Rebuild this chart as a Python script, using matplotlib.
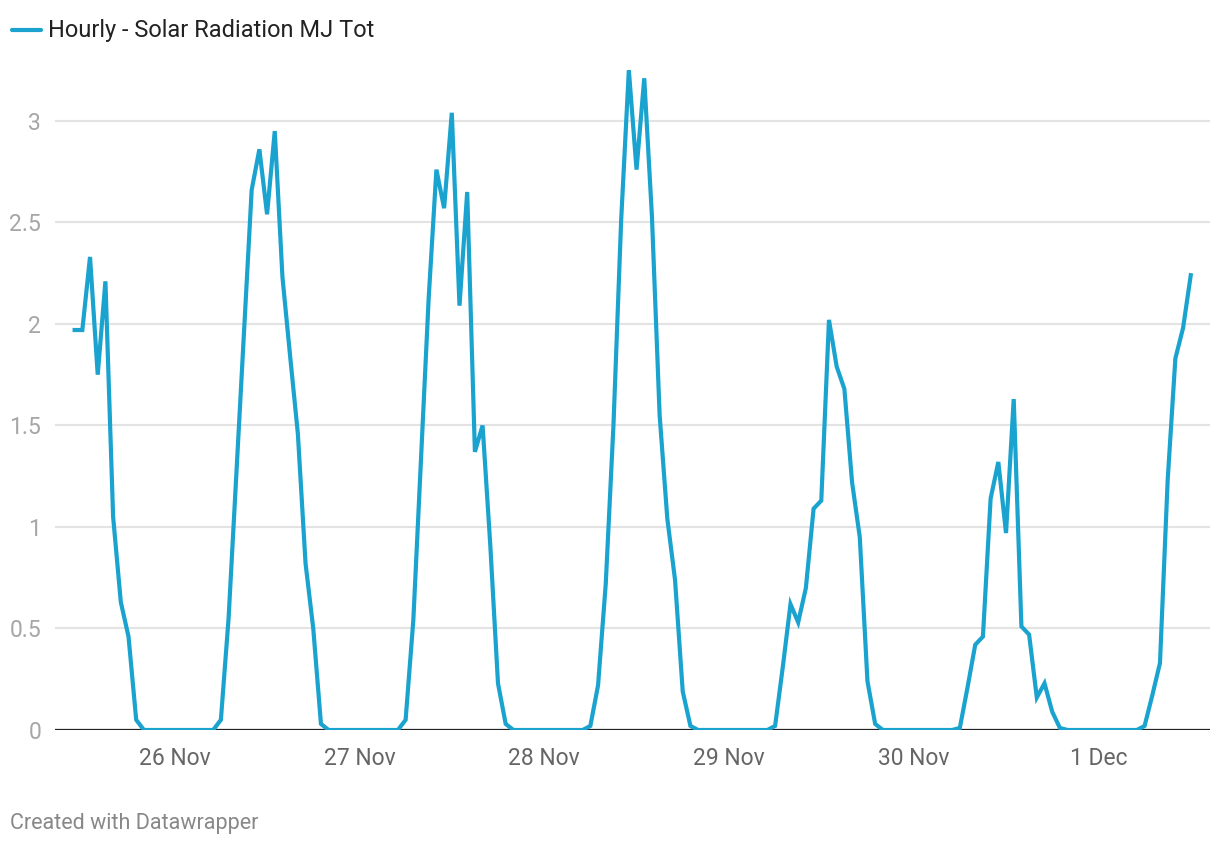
import numpy as np
import pandas as pd
import matplotlib
matplotlib.use('Agg')
import matplotlib.pyplot as plt
import matplotlib.dates as mdates
from matplotlib.lines import Line2D

plt.rcParams['font.family'] = ['Roboto', 'DejaVu Sans']

# Hourly solar radiation (MJ)
nov25 = [1.97, 1.97, 2.33, 1.75, 2.21, 1.05, 0.63, 0.46, 0.05, 0, 0, 0, 0]  # 11:00-23:00
nov26 = [0, 0, 0, 0, 0, 0, 0.05, 0.55, 1.25, 1.95, 2.66, 2.86, 2.54, 2.95, 2.23, 1.84,
         1.46, 0.82, 0.50, 0.03, 0, 0, 0, 0]
nov27 = [0, 0, 0, 0, 0, 0, 0.05, 0.54, 1.33, 2.13, 2.76, 2.57, 3.04, 2.09, 2.65, 1.37,
         1.50, 0.91, 0.23, 0.03, 0, 0, 0, 0]
nov28 = [0, 0, 0, 0, 0, 0, 0.02, 0.22, 0.72, 1.50, 2.51, 3.25, 2.76, 3.21, 2.53, 1.55,
         1.04, 0.74, 0.19, 0.02, 0, 0, 0, 0]
nov29 = [0, 0, 0, 0, 0, 0, 0.02, 0.31, 0.62, 0.53, 0.70, 1.09, 1.13, 2.02, 1.79, 1.68,
         1.22, 0.95, 0.24, 0.03, 0, 0, 0, 0]
nov30 = [0, 0, 0, 0, 0, 0, 0.01, 0.21, 0.42, 0.46, 1.14, 1.32, 0.97, 1.63, 0.51, 0.47,
         0.16, 0.23, 0.09, 0.01, 0, 0, 0, 0]
dec01 = [0, 0, 0, 0, 0, 0, 0.02, 0.17, 0.33, 1.23, 1.83, 1.98, 2.24]  # 00:00-12:00

values = np.array(nov25 + nov26 + nov27 + nov28 + nov29 + nov30 + dec01)
times = pd.date_range('2023-11-25 11:00', periods=len(values), freq='h')

yticks = [0, 0.5, 1, 1.5, 2, 2.5, 3]
ytick_labels = ['0', '0.5', '1', '1.5', '2', '2.5', '3']
label = 'Hourly - Solar Radiation MJ Tot'

blue = '#1aa3cf'

fig = plt.figure(figsize=(12.2, 8.46), dpi=100)
ax = fig.add_axes([55 / 1220, 116 / 846, 1155 / 1220, 670 / 846])

ax.plot(times, values, color=blue, lw=3.0, solid_joinstyle='miter', zorder=3)

ax.set_ylim(0, 3.3)
ax.set_xlim(pd.Timestamp('2023-11-25 08:27'), pd.Timestamp('2023-12-01 14:30'))

ax.set_yticks(yticks)
ax.set_yticklabels(ytick_labels)
ax.grid(axis='y', color='#e3e3e3', lw=1.5)
ax.grid(axis='x', visible=False)
ax.axhline(0, color='#222222', lw=1.6, zorder=2)

ax.xaxis.set_major_locator(mdates.DayLocator())
ax.xaxis.set_major_formatter(mdates.DateFormatter('%-d %b'))

ax.tick_params(axis='y', length=0, pad=10, labelsize=16.5, labelcolor='#a6a6a6')
ax.tick_params(axis='x', length=0, pad=12, labelsize=16.5, labelcolor='#666666')
for lab in ax.get_yticklabels():
    lab.set_horizontalalignment('right')

for s in ax.spines.values():
    s.set_visible(False)

# legend
fig.add_artist(Line2D([12 / 1220, 41 / 1220], [1 - 30 / 846, 1 - 30 / 846],
                      color=blue, lw=3.0, solid_capstyle='round'))
fig.text(48 / 1220, 1 - 30 / 846, label, fontsize=17, color='#222222', va='center', ha='left')

fig.text(10 / 1220, 1 - 823 / 846, 'Created with Datawrapper', fontsize=15.5,
         color='#888888', va='center', ha='left')

fig.savefig('out.png', dpi=100, facecolor='white')
